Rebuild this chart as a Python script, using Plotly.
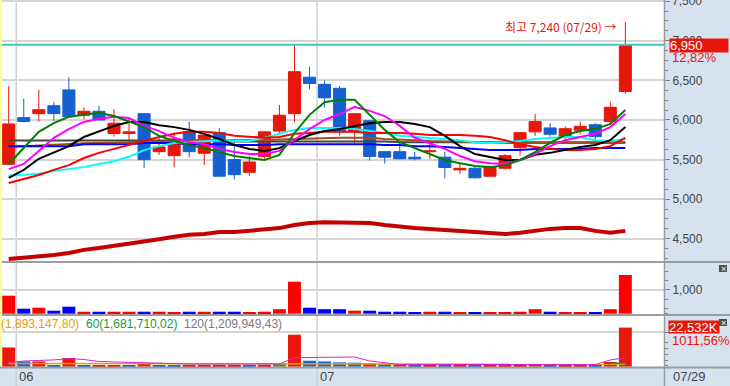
import plotly.graph_objects as go

W, H = 730, 386

def px(x):
    return x / W

def py(y):
    return 1 - y / H

# ---------------- data ----------------
idx = list(range(42))
opens  = [5440,6030,6080,6180,6380,6060,6110,5830,5830,6080,5600,5550,5850,5580,5840,5500,5340,5540,5860,6080,
          6540,6450,6400,5860,5990,5600,5600,5530,5600,5530,5370,5390,5290,5390,5650,5850,5900,5780,5870,5940,5980,6360]
highs  = [6430,6270,6380,6230,6540,6160,6180,6140,6020,6080,5800,5840,5980,5810,5900,5760,5540,5860,6190,6960,
          6670,6500,6430,6080,5990,5610,5710,5600,5710,5600,5460,5410,5420,5570,5850,6080,5960,5920,5980,5960,6230,7240]
lows   = [5430,5970,5980,5990,6040,6010,6000,5790,5710,5390,5560,5400,5530,5430,5290,5250,5290,5510,5820,5970,
          6390,6160,5800,5710,5490,5450,5510,5490,5510,5260,5320,5260,5280,5370,5550,5800,5790,5750,5820,5720,5940,6330]
closes = [5950,5980,6130,6080,6040,6110,6000,5960,5850,5500,5660,5760,5600,5810,5290,5310,5470,5850,6060,6610,
          6460,6280,5850,6080,5540,5530,5510,5510,5610,5400,5390,5270,5410,5550,5840,5980,5820,5890,5920,5790,6160,6950]

ma_green   = [5445,5645,5850,5960,6040,6065,6090,6050,5985,5910,5800,5735,5685,5645,5595,5545,5520,5495,5560,5835,
              6065,6225,6255,6255,6065,5875,5720,5645,5560,5495,5455,5420,5405,5430,5495,5595,5710,5810,5860,5885,5950,6125]
ma_magenta = [5380,5445,5610,5775,5885,5975,6015,6040,6025,5925,5860,5775,5720,5695,5635,5595,5570,5570,5610,5745,
              5885,6000,6075,6165,6115,6050,5925,5775,5710,5635,5545,5480,5455,5445,5495,5570,5670,5745,5785,5825,5910,6075]
ma_black   = [5270,5370,5510,5595,5670,5785,5860,5925,5975,5975,5935,5910,5875,5825,5760,5685,5635,5610,5645,5735,
              5810,5860,5885,5925,5960,5975,5975,5950,5910,5800,5670,5570,5535,5495,5495,5560,5585,5620,5660,5685,5745,5910]
ma_red     = [5205,5255,5305,5370,5430,5520,5585,5635,5685,5735,5785,5825,5850,5850,5835,5800,5785,5775,5785,5825,
              5835,5850,5850,5850,5835,5835,5835,5825,5810,5810,5810,5800,5785,5745,5695,5660,5635,5620,5620,5635,5670,5775]
ma_cyan    = [5295,5305,5320,5355,5380,5405,5445,5480,5535,5620,5670,5710,5720,5735,5745,5735,5735,5775,5825,5875,
              5900,5900,5900,5885,5860,5835,5800,5785,5775,5760,5745,5720,5710,5720,5735,5760,5775,5785,5785,5745,5735,5760]
ma_blue    = [5670,5670,5670,5670,5670,5695,5695,5695,5695,5710,5710,5710,5695,5695,5695,5685,5685,5685,5695,5695,
              5695,5695,5695,5695,5695,5685,5685,5670,5670,5660,5645,5635,5620,5620,5620,5635,5635,5635,5635,5645,5645,5645]
ma_brown   = [5660,5670,5680,5685,5695,5705,5710,5715,5720,5730,5735,5740,5745,5745,5745,5745,5745,5745,5755,5760,
              5765,5775,5775,5775,5775,5760,5755,5745,5735,5730,5720,5715,5710,5710,5710,5710,5710,5710,5710,5710,5710,5710]
ma_gray    = [5740,5740,5740,5740,5740,5740,5740,5740,5740,5740,5740,5740,5740,5740,5740,5730,5730,5730,5730,5730,
              5730,5730,5730,5730,5730,5730,5720,5720,5720,5720,5720,5720,5720,5720,5720,5720,5720,5720,5720,5720,5720,5720]
ma_darkred = [4245,4260,4270,4295,4320,4360,4385,4410,4435,4460,4495,4525,4550,4560,4585,4585,4600,4610,4635,4675,
              4700,4710,4710,4710,4700,4675,4650,4635,4625,4610,4600,4585,4575,4560,4575,4600,4625,4635,4635,4600,4575,4600]

# trading value (억원)
trade_value = [760,211,253,127,295,84,84,84,84,84,84,42,84,84,84,84,42,84,190,1350,
               253,190,190,127,127,84,84,35,84,84,35,35,35,35,84,190,84,35,35,35,190,1633]
# volume (K shares)
volume_k = [11100,3050,3050,1000,5000,1000,800,800,600,1900,600,600,600,600,600,600,600,600,1550,18450,
            3450,3050,2500,2300,1950,1400,1400,950,900,900,900,900,900,900,900,1400,900,900,900,900,2700,22532]
volume_dir = ['R','B','R','B','R','B','R','R','B','R','B','B','R','R','R','R','B','R','G','R',
              'B','B','B','B','R','B','R','B','R','B','R','B','R','R','R','R','B','R','R','B','R','R']
vol_ma5  = [2400,3300,3600,3900,4700,4150,3000,2700,2400,2100,1850,1550,1550,1550,1550,1550,1550,1550,1550,5200,
            5400,5400,5600,5600,3300,2100,1250,1250,1250,1250,1250,1250,1250,1250,1250,1250,1250,1250,1250,1250,3900,5200]
vol_ma20 = [1800]*39 + [1400, 1400, 1400]
vol_ma60 = [None]*40 + [1950, 1950]

month_lines = [0.5, 20.5]
month_labels = ['06', '07']
last_date = '07/29'
legend_parts = ['(1,893,147,80)', '60(1,681,710,02)', '120(1,209,949,43)']

# ---------------- styles ----------------
RED = '#e8170b'
BLUE = '#1560d0'
FONT = 'Liberation Sans, Arial, sans-serif'
KFONT = 'Noto Sans CJK KR, Liberation Sans, sans-serif'
PANEL = '#d6e2f0'
SEP = '#9c9c9c'
GRID = '#d4d4d4'

fig = go.Figure()

ma_specs = [
    (ma_darkred, '#c40000', 4),
    (ma_gray, '#444444', 2),
    (ma_brown, '#a0501e', 2),
    (ma_blue, '#0000ff', 2),
    (ma_cyan, '#00ffff', 2),
    (ma_red, '#ff0000', 2),
    (ma_black, '#000000', 2),
    (ma_magenta, '#ff00ff', 2),
    (ma_green, '#008000', 2),
]

fig.add_trace(go.Candlestick(
    x=idx, open=opens, high=highs, low=lows, close=closes,
    increasing=dict(line=dict(color=RED, width=1), fillcolor=RED),
    decreasing=dict(line=dict(color=BLUE, width=1), fillcolor=BLUE),
    xaxis='x', yaxis='y', showlegend=False, hoverinfo='skip'))

for vals, col, w in ma_specs:
    fig.add_trace(go.Scatter(x=idx, y=vals, mode='lines', line=dict(color=col, width=w),
                             xaxis='x', yaxis='y', showlegend=False, hoverinfo='skip'))

val_colors = ['#ff0000' if c >= o else '#0000ff' for o, c in zip(opens, closes)]
fig.add_trace(go.Bar(x=idx, y=trade_value, width=0.86, marker=dict(color=val_colors, line=dict(width=0)),
                     xaxis='x', yaxis='y2', showlegend=False, hoverinfo='skip'))

cmap = {'R': '#e8190c', 'B': '#1a64d2', 'G': '#2e9a3a'}
fig.add_trace(go.Bar(x=idx, y=volume_k, width=0.86,
                     marker=dict(color=[cmap[d] for d in volume_dir], line=dict(width=0)),
                     xaxis='x', yaxis='y3', showlegend=False, hoverinfo='skip'))
fig.add_trace(go.Scatter(x=idx, y=vol_ma20, mode='lines', line=dict(color='#e8a000', width=1.5),
                         xaxis='x', yaxis='y3', showlegend=False, hoverinfo='skip'))
fig.add_trace(go.Scatter(x=idx, y=vol_ma60, mode='lines', line=dict(color='#1a9a3a', width=1.5),
                         xaxis='x', yaxis='y3', showlegend=False, hoverinfo='skip'))
fig.add_trace(go.Scatter(x=idx, y=vol_ma5, mode='lines', line=dict(color='#e020c8', width=1),
                         xaxis='x', yaxis='y3', showlegend=False, hoverinfo='skip'))

tickfont = dict(family=FONT, size=12, color='#444444')

shapes = [
    # current price line
    dict(type='line', xref='paper', yref='y', x0=0, x1=px(664), y0=closes[-1], y1=closes[-1],
         line=dict(color='#3cc8c8', width=2), layer='above'),
    # separators
    dict(type='line', xref='paper', yref='paper', x0=0, x1=1, y0=py(262), y1=py(262), line=dict(color=SEP, width=2)),
    dict(type='line', xref='paper', yref='paper', x0=0, x1=1, y0=py(315), y1=py(315), line=dict(color=SEP, width=2)),
    dict(type='line', xref='paper', yref='paper', x0=0, x1=1, y0=py(367.5), y1=py(367.5), line=dict(color=SEP, width=2)),
    dict(type='line', xref='paper', yref='paper', x0=px(664.5), x1=px(664.5), y0=0, y1=1, line=dict(color=SEP, width=1.5)),
    # yellow left edge
    dict(type='rect', xref='paper', yref='paper', x0=0, x1=px(2), y0=py(366), y1=1,
         fillcolor='#ffff99', line=dict(width=0)),
    # close icons
    dict(type='rect', xref='paper', yref='paper', x0=px(719), x1=px(727), y0=py(272), y1=py(265),
         fillcolor='#505050', line=dict(width=0)),
    dict(type='rect', xref='paper', yref='paper', x0=px(719), x1=px(727), y0=py(326), y1=py(319),
         fillcolor='#505050', line=dict(width=0)),
]
for m in month_lines:
    shapes.append(dict(type='line', xref='x', yref='paper', x0=m, x1=m, y0=0, y1=1,
                       line=dict(color='#cfcfcf', width=1.5), layer='below'))

ann = []
def text(x, y, s, color, size=12, anchor='left', family=FONT, bg=None, width=None, height=None):
    d = dict(xref='paper', yref='paper', x=px(x), y=py(y), text=s, showarrow=False,
             xanchor=anchor, yanchor='middle', font=dict(family=family, size=size, color=color),
             borderpad=0)
    if bg:
        d['bgcolor'] = bg
        d['align'] = 'left'
    if width:
        d['width'] = width
    if height:
        d['height'] = height
    ann.append(d)

text(671, 1, '7,500', '#444444', size=12)
text(618, 26, '최고 7,240 (07/29) →', RED, size=12, anchor='right', family=KFONT)
text(669, 45.5, '6,950', 'white', size=13, bg=RED, width=58, height=13)
text(671, 58, '12,82%', RED, size=13)
text(668, 327, '22,532K', 'white', size=13, bg=RED, width=50, height=12)
text(671, 340, '1011,56%', RED, size=13)
text(723, 268.5, '×', 'white', size=9, anchor='center')
text(723, 322.5, '×', 'white', size=9, anchor='center')
text(18, 376.5, month_labels[0], '#444444', size=13)
text(319, 376.5, month_labels[1], '#444444', size=13)
text(672, 376.5, last_date, '#444444', size=13)
text(0, 324, legend_parts[0], '#e69b00', size=12)
text(85, 324, legend_parts[1], '#149a3c', size=12)
text(183, 324, legend_parts[2], '#7a7a7a', size=12)

axis_common = dict(automargin=False, fixedrange=True, zeroline=False, showline=False)

fig.update_layout(
    template='none',
    width=W, height=H,
    margin=dict(l=0, r=0, t=0, b=0, pad=0, autoexpand=False),
    paper_bgcolor=PANEL, plot_bgcolor='white',
    showlegend=False,
    font=dict(family=FONT),
    boxgap=0.2, boxgroupgap=0,
    xaxis=dict(domain=[0, px(664)], range=[-0.58, 43.57], anchor='y3',
               showticklabels=False, showgrid=False, ticks='',
               rangeslider=dict(visible=False), **axis_common),
    yaxis=dict(domain=[py(262), 1], range=[4207, 7515], side='right', anchor='x',
               tickmode='linear', tick0=0, dtick=500, tickformat=',',
               ticks='outside', ticklen=5, tickcolor='#808080', tickfont=tickfont,
               showgrid=True, gridcolor=GRID, gridwidth=1.5,
               minor=dict(tickmode='linear', tick0=0, dtick=125, ticks='outside', ticklen=3,
                          tickcolor='#808080', showgrid=False),
               **axis_common),
    yaxis2=dict(domain=[py(315), py(262)], range=[-55, 2181], side='right', anchor='x',
                tickmode='array', tickvals=[1000], ticktext=['1,000'],
                ticks='outside', ticklen=5, tickcolor='#808080', tickfont=tickfont,
                showgrid=True, gridcolor=GRID, gridwidth=1.5,
                minor=dict(tickmode='array', tickvals=[0, 200, 600, 1400, 1800], ticks='outside',
                           ticklen=3, tickcolor='#808080', showgrid=False),
                **axis_common),
    yaxis3=dict(domain=[py(367), py(315)], range=[-170, 29800], side='right', anchor='x',
                tickmode='array', tickvals=[20000], ticktext=[''],
                ticks='outside', ticklen=5, tickcolor='#808080', tickfont=tickfont,
                showgrid=True, gridcolor=GRID, gridwidth=1.5,
                minor=dict(tickmode='array', tickvals=[500, 3500, 7000, 10500, 14000], ticks='outside',
                           ticklen=3, tickcolor='#808080', showgrid=False),
                **axis_common),
    shapes=shapes,
    annotations=ann,
)

fig.write_html('out.html', config={'displayModeBar': False},
               post_script="document.body.style.margin='0';document.body.style.overflow='hidden';")
